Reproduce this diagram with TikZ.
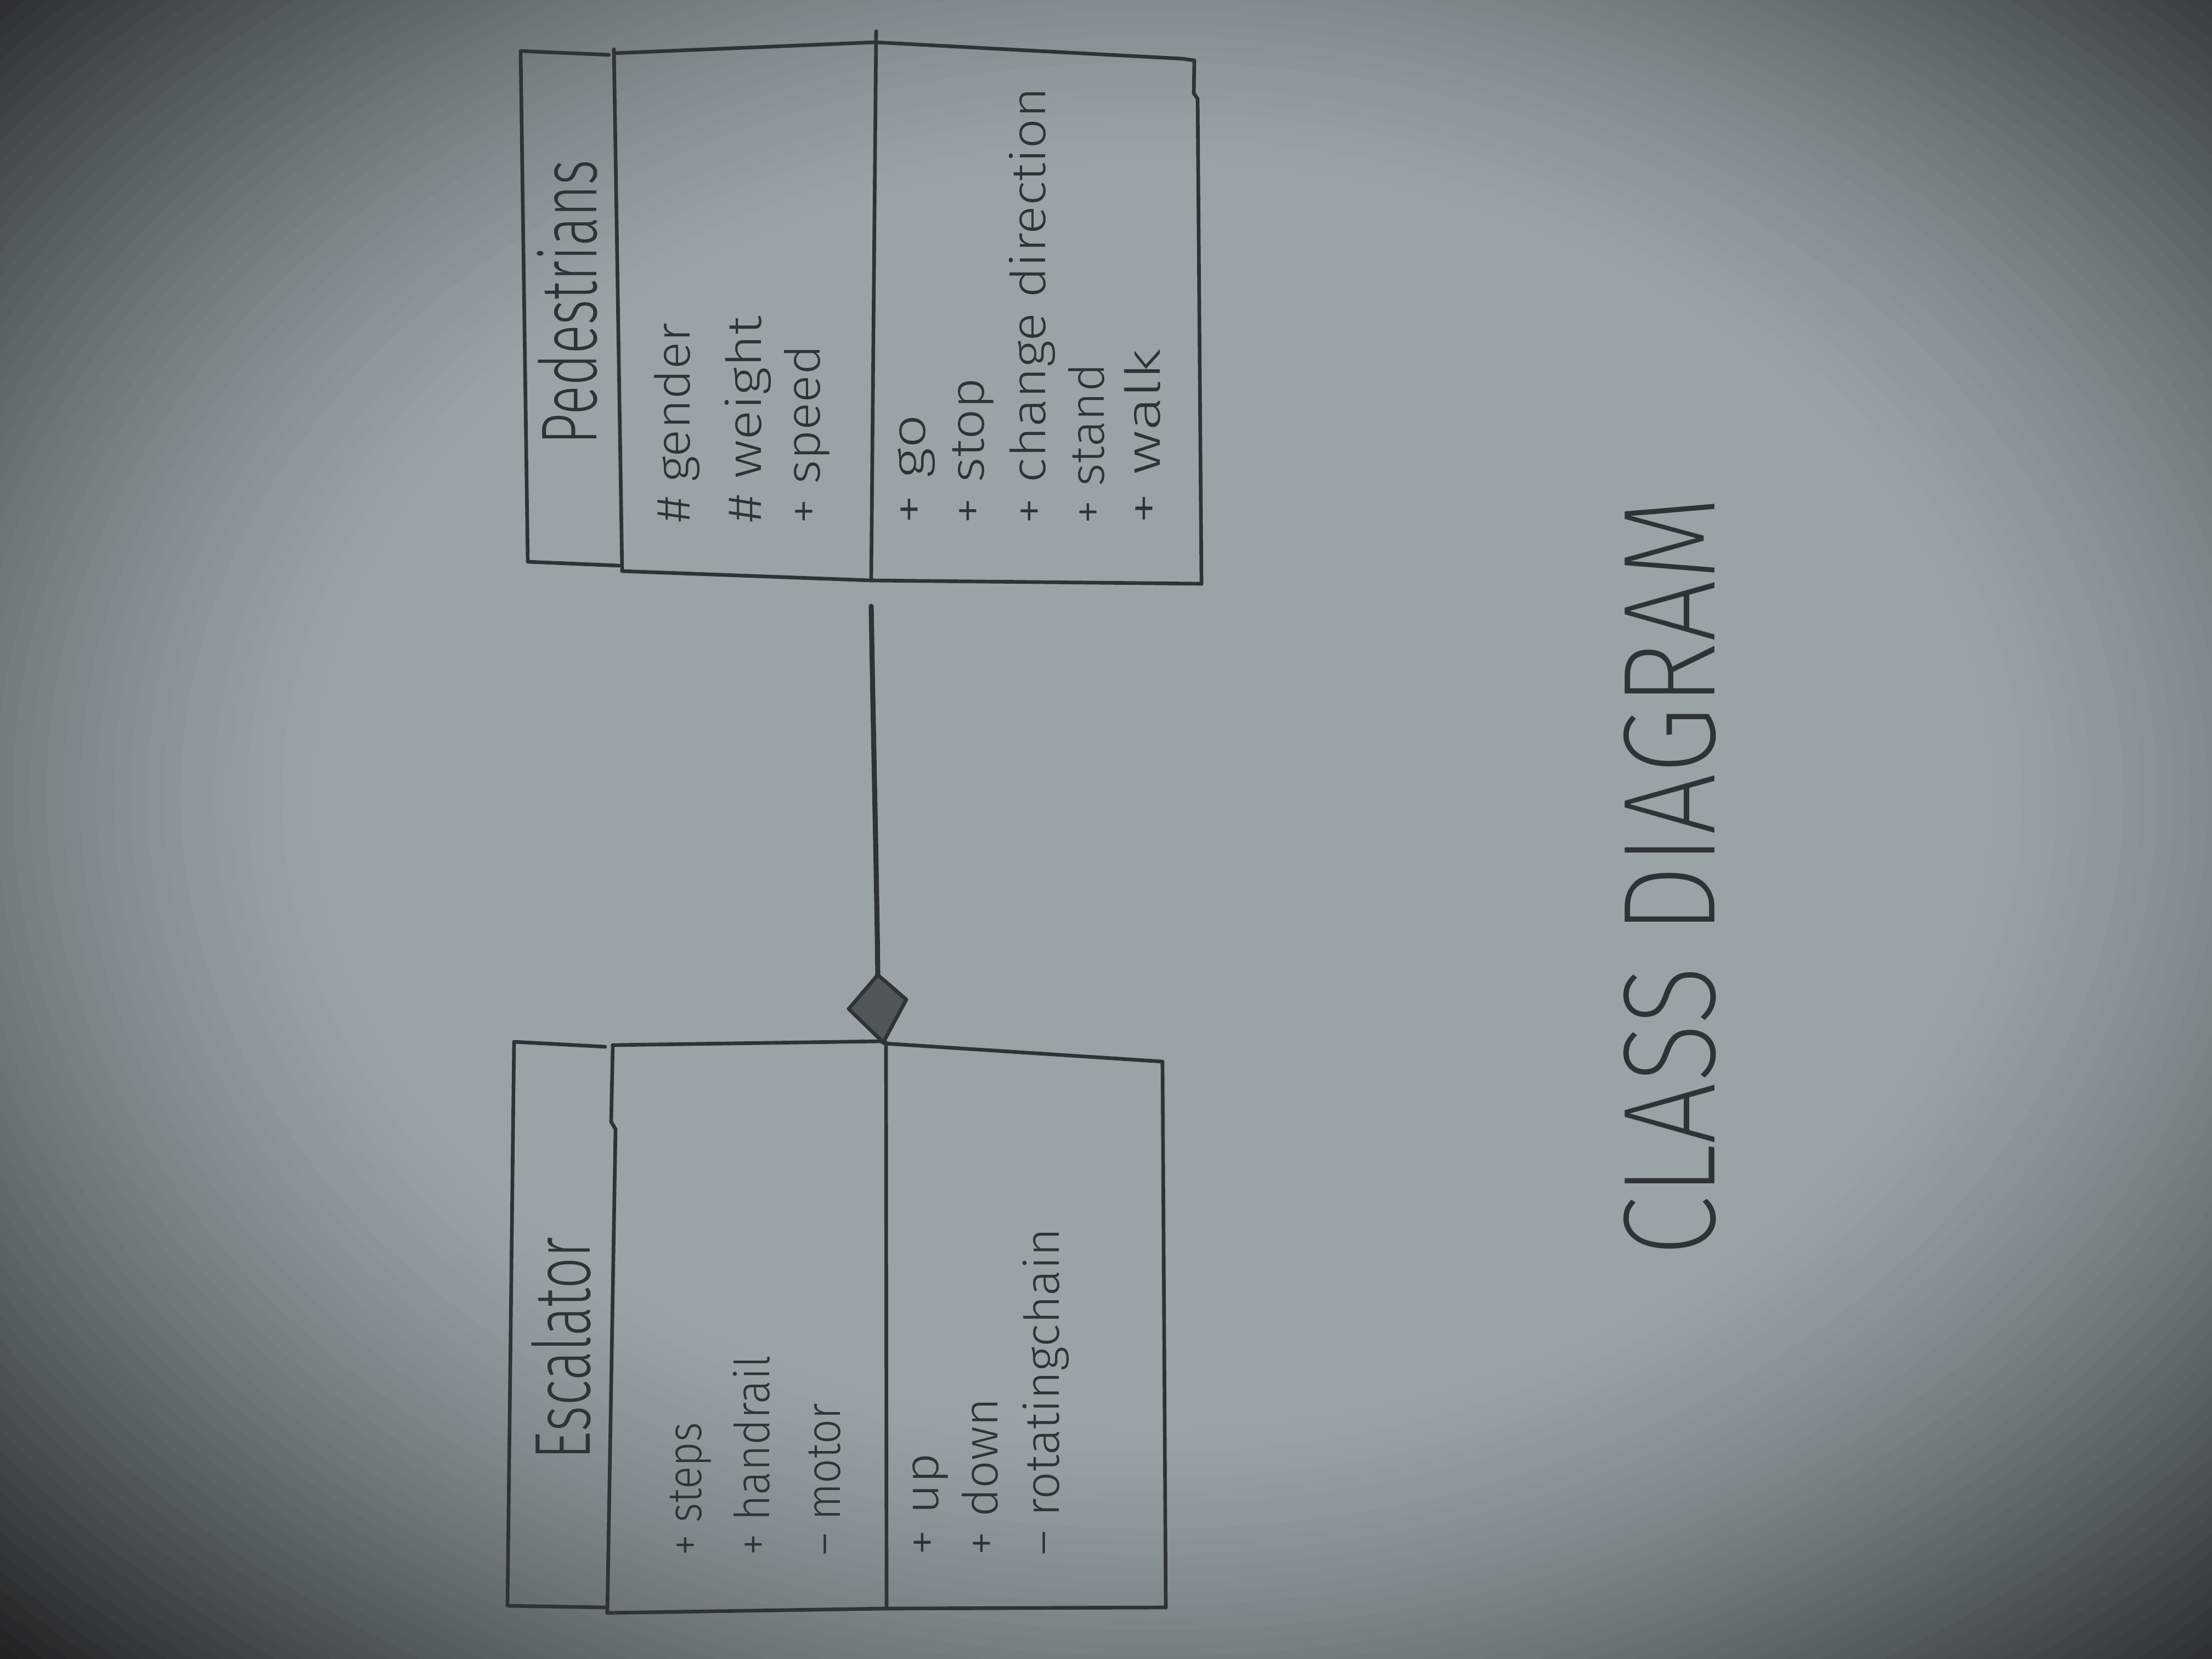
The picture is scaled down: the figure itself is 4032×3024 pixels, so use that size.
\documentclass[tikz,border=0pt]{standalone}
\usepackage{fontspec}
\setmainfont{Fira Sans Light}
\newfontfamily\titlefont{Fira Sans Light}
\newfontfamily\capfont{Fira Sans ExtraLight}
\usepackage{graphicx}
\definecolor{paper}{RGB}{153,163,168}
\definecolor{paperF}{RGB}{28,32,31}
\definecolor{pencil}{RGB}{46,51,54}
\definecolor{pencilfill}{RGB}{80,86,90}
\newcommand\fitw[2]{\setbox0=\hbox{#2}\pgfmathsetmacro\fitr{(#1)/\the\wd0}\scalebox{\fitr}[1]{\box0}}
\begin{document}
\begin{tikzpicture}[x=0.01cm, y=-0.01cm, line cap=round, line join=round,
  pen/.style={draw=pencil, line width=1.9pt},
  ln/.style={rotate=90, anchor=base west, inner sep=0pt, outer sep=0pt, text=pencil, font=\fontsize{25}{30}\selectfont},
  ttl/.style={ln, font=\titlefont\fontsize{41}{48}\selectfont},
  big/.style={ln, font=\capfont\fontsize{68}{80}\selectfont}]
\useasboundingbox (0,0) rectangle (4032,3024);
% ---------- paper with vignette ----------
\begin{scope}
\clip (0,0) rectangle (4032,3024);
\fill[paperF] (0,0) rectangle (4032,3024);
\foreach \k in {0,...,64} {
  \pgfmathsetmacro\rho{1.36-\k*0.0125}
  \pgfmathsetmacro\s{max(min((\rho-0.62)/0.6,1),0.001)}
  \pgfmathsetmacro\dk{100*pow(\s,1.35)}
  \fill[paperF!\dk!paper] (2100,1450) ellipse [x radius={2450*\rho}, y radius={1850*\rho}];
}
\end{scope}

% ---------- Pedestrians class ----------
\coordinate (p1) at (949,93);
\coordinate (p2) at (1110,100);
\coordinate (p3) at (962,1024);
\coordinate (p4) at (1128,1031);
\coordinate (pd1) at (1119,90);
\coordinate (pd2) at (1134,1041);
\coordinate (pt1) at (1119,97);
\coordinate (pt2) at (1595,77);
\coordinate (pt3) at (2155,107);
\coordinate (pt4) at (2177,110);
\coordinate (po1) at (1597,57);
\coordinate (po2) at (1588,1058);
\coordinate (pr1) at (2183,180);
\coordinate (pr2) at (2190,1064);
\draw[pen] (p2) -- (p1) -- (p3) -- (p4);
\draw[pen] (pd1) -- (pd2);
\draw[pen] (pt1) -- (pt2) -- (pt3) -- (pt4) -- (2176,170) -- (pr1) -- (pr2);
\draw[pen] (po1) -- (po2);
\draw[pen] (pd2) -- (po2) -- (pr2);

\node[ttl] (ptitle) at (1087,810) {\fitw{5.18cm}{Pedestrians}};
\node[ln] (pa1) at (1257,952) {\fitw{3.63cm}{\# gender}};
\node[ln] (pa2) at (1387,952) {\fitw{3.76cm}{\# weight}};
\node[ln] (pa3) at (1494,955) {\fitw{3.26cm}{+ speed}};
\node[ln] (pm1) at (1686,955) {\fitw{1.99cm}{+ go}};
\node[ln] (pm2) at (1793,955) {\fitw{2.66cm}{+ stop}};
\node[ln] (pm3) at (1905,955) {\fitw{7.95cm}{+ change direction}};
\node[ln] (pm4) at (2012,955) {\fitw{2.92cm}{+ stand}};
\node[ln] (pm5) at (2114,955) {\fitw{3.19cm}{+ walk}};

% ---------- Escalator class ----------
\coordinate (e1) at (937,1899);
\coordinate (e2) at (1103,1908);
\coordinate (e3) at (925,2927);
\coordinate (e4) at (1103,2930);
\coordinate (ed1) at (1117,1905);
\coordinate (ed2) at (1107,2940);
\coordinate (et2) at (1605,1898);
\coordinate (et3) at (1613,1902);
\coordinate (et4) at (2119,1935);
\coordinate (eo1) at (1615,1900);
\coordinate (eo2) at (1616,2932);
\coordinate (er2) at (2125,2930);
\draw[pen] (e2) -- (e1) -- (e3) -- (e4);
\draw[pen] (ed1) -- (1114,2045) -- (1122,2058) -- (ed2);
\draw[pen] (ed1) -- (et2) -- (et3) -- (et4) -- (er2);
\draw[pen] (eo1) -- (eo2);
\draw[pen] (ed2) -- (eo2) -- (er2);

\node[ttl] (etitle) at (1075,2660) {\fitw{4.05cm}{Escalator}};
\node[ln] (ea1) at (1278,2835) {\fitw{2.42cm}{+ steps}};
\node[ln] (ea2) at (1402,2835) {\fitw{3.64cm}{+ handrail}};
\node[ln] (ea3) at (1531,2835) {\fitw{2.77cm}{– motor}};
\node[ln] (em1) at (1710,2835) {\fitw{1.86cm}{+ up}};
\node[ln] (em2) at (1818,2835) {\fitw{2.87cm}{+ down}};
\node[ln] (em3) at (1930,2835) {\fitw{5.96cm}{– rotatingchain}};

% ---------- composition connector ----------
\coordinate (pconn) at (1588,1105);
\coordinate (dt) at (1600,1777);
\coordinate (dl) at (1547,1839);
\coordinate (db) at (1610,1900);
\coordinate (dr) at (1652,1822);
\draw[pen, line width=2.6pt] (pconn) .. controls (1593,1400) and (1598,1600) .. (dt);
\filldraw[pen, fill=pencilfill] (dt) -- (dl) -- (db) -- (dr) -- cycle;

% ---------- caption ----------
\node[big] (caption) at (3125,2290) {\fitw{13.85cm}{CLASS DIAGRAM}};
\end{tikzpicture}
\end{document}
